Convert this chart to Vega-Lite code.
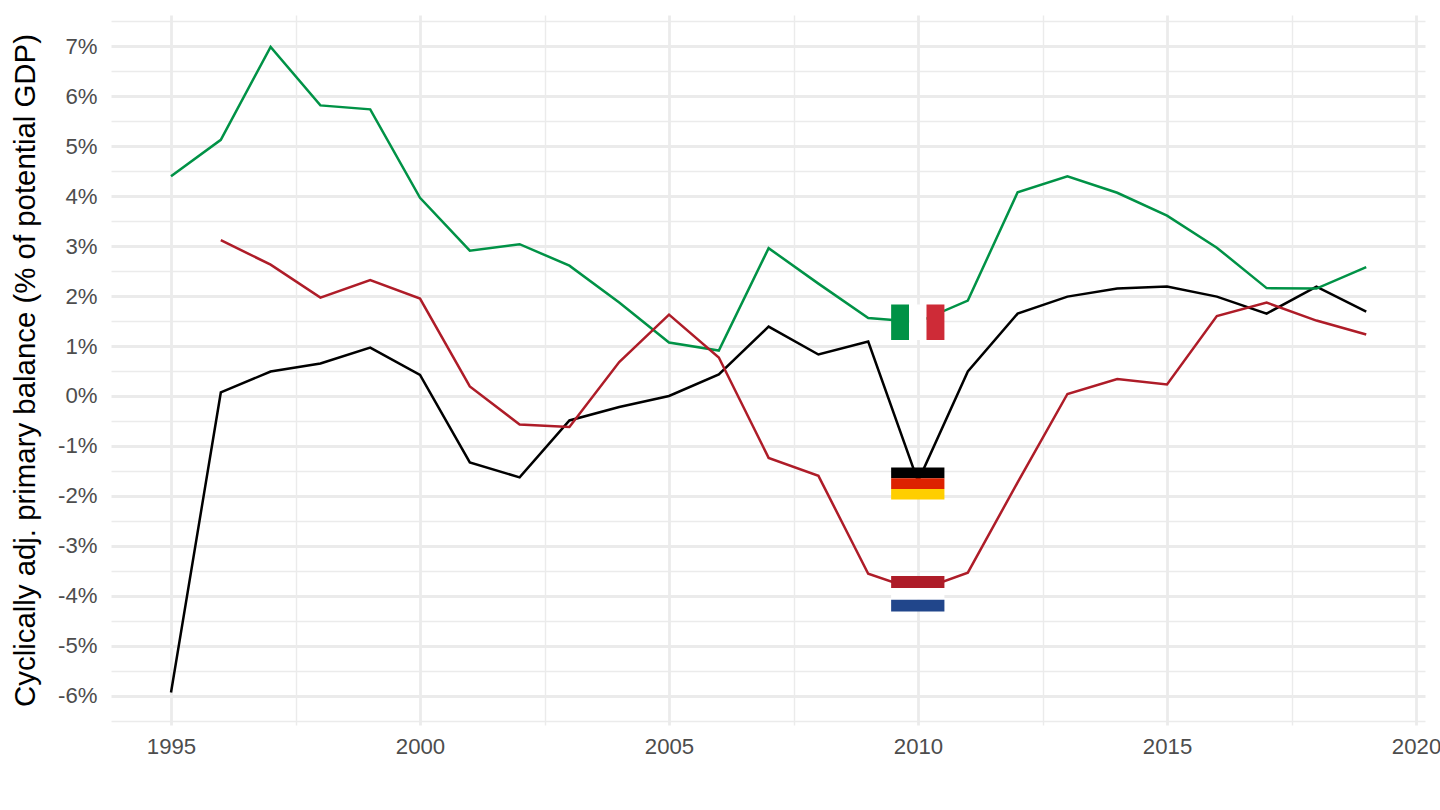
{
  "$schema": "https://vega.github.io/schema/vega-lite/v6.json",
  "width": 1314,
  "height": 710,
  "autosize": "none",
  "padding": {"left": 111, "top": 15, "right": 15, "bottom": 85},
  "background": "white",
  "datasets": {
    "balance": [
      {"year": 1995, "country": "Germany", "value": -5.94},
      {"year": 1996, "country": "Germany", "value": 0.07},
      {"year": 1997, "country": "Germany", "value": 0.49},
      {"year": 1998, "country": "Germany", "value": 0.65},
      {"year": 1999, "country": "Germany", "value": 0.97},
      {"year": 2000, "country": "Germany", "value": 0.42},
      {"year": 2001, "country": "Germany", "value": -1.33},
      {"year": 2002, "country": "Germany", "value": -1.63},
      {"year": 2003, "country": "Germany", "value": -0.49},
      {"year": 2004, "country": "Germany", "value": -0.22},
      {"year": 2005, "country": "Germany", "value": 0.0},
      {"year": 2006, "country": "Germany", "value": 0.43},
      {"year": 2007, "country": "Germany", "value": 1.39},
      {"year": 2008, "country": "Germany", "value": 0.83},
      {"year": 2009, "country": "Germany", "value": 1.09},
      {"year": 2010, "country": "Germany", "value": -1.71},
      {"year": 2011, "country": "Germany", "value": 0.49},
      {"year": 2012, "country": "Germany", "value": 1.65},
      {"year": 2013, "country": "Germany", "value": 1.99},
      {"year": 2014, "country": "Germany", "value": 2.15},
      {"year": 2015, "country": "Germany", "value": 2.19},
      {"year": 2016, "country": "Germany", "value": 1.99},
      {"year": 2017, "country": "Germany", "value": 1.65},
      {"year": 2018, "country": "Germany", "value": 2.19},
      {"year": 2019, "country": "Germany", "value": 1.69},
      {"year": 1995, "country": "Italy", "value": 4.4},
      {"year": 1996, "country": "Italy", "value": 5.13},
      {"year": 1997, "country": "Italy", "value": 6.99},
      {"year": 1998, "country": "Italy", "value": 5.82},
      {"year": 1999, "country": "Italy", "value": 5.74},
      {"year": 2000, "country": "Italy", "value": 3.97},
      {"year": 2001, "country": "Italy", "value": 2.91},
      {"year": 2002, "country": "Italy", "value": 3.04},
      {"year": 2003, "country": "Italy", "value": 2.61},
      {"year": 2004, "country": "Italy", "value": 1.87},
      {"year": 2005, "country": "Italy", "value": 1.07},
      {"year": 2006, "country": "Italy", "value": 0.91},
      {"year": 2007, "country": "Italy", "value": 2.96},
      {"year": 2008, "country": "Italy", "value": 2.25},
      {"year": 2009, "country": "Italy", "value": 1.56},
      {"year": 2010, "country": "Italy", "value": 1.48},
      {"year": 2011, "country": "Italy", "value": 1.91},
      {"year": 2012, "country": "Italy", "value": 4.08},
      {"year": 2013, "country": "Italy", "value": 4.4},
      {"year": 2014, "country": "Italy", "value": 4.07},
      {"year": 2015, "country": "Italy", "value": 3.61},
      {"year": 2016, "country": "Italy", "value": 2.97},
      {"year": 2017, "country": "Italy", "value": 2.16},
      {"year": 2018, "country": "Italy", "value": 2.15},
      {"year": 2019, "country": "Italy", "value": 2.58},
      {"year": 1996, "country": "Netherlands", "value": 3.12},
      {"year": 1997, "country": "Netherlands", "value": 2.63},
      {"year": 1998, "country": "Netherlands", "value": 1.97},
      {"year": 1999, "country": "Netherlands", "value": 2.32},
      {"year": 2000, "country": "Netherlands", "value": 1.95},
      {"year": 2001, "country": "Netherlands", "value": 0.19},
      {"year": 2002, "country": "Netherlands", "value": -0.57},
      {"year": 2003, "country": "Netherlands", "value": -0.62},
      {"year": 2004, "country": "Netherlands", "value": 0.68},
      {"year": 2005, "country": "Netherlands", "value": 1.63},
      {"year": 2006, "country": "Netherlands", "value": 0.77},
      {"year": 2007, "country": "Netherlands", "value": -1.24},
      {"year": 2008, "country": "Netherlands", "value": -1.6},
      {"year": 2009, "country": "Netherlands", "value": -3.56},
      {"year": 2010, "country": "Netherlands", "value": -3.9},
      {"year": 2011, "country": "Netherlands", "value": -3.54},
      {"year": 2012, "country": "Netherlands", "value": -1.73},
      {"year": 2013, "country": "Netherlands", "value": 0.04},
      {"year": 2014, "country": "Netherlands", "value": 0.34},
      {"year": 2015, "country": "Netherlands", "value": 0.23},
      {"year": 2016, "country": "Netherlands", "value": 1.6},
      {"year": 2017, "country": "Netherlands", "value": 1.87},
      {"year": 2018, "country": "Netherlands", "value": 1.51},
      {"year": 2019, "country": "Netherlands", "value": 1.23}
    ],
    "flags": [
      {"band": "IT green", "from": 2009.46, "to": 2009.82, "low": 1.121, "high": 1.832},
      {"band": "IT white", "from": 2009.82, "to": 2010.17, "low": 1.121, "high": 1.832},
      {"band": "IT red", "from": 2010.17, "to": 2010.53, "low": 1.121, "high": 1.832},
      {"band": "DE black", "from": 2009.46, "to": 2010.53, "low": -1.647, "high": -1.433},
      {"band": "DE red", "from": 2009.46, "to": 2010.53, "low": -1.861, "high": -1.647},
      {"band": "DE gold", "from": 2009.46, "to": 2010.53, "low": -2.075, "high": -1.861},
      {"band": "NL red", "from": 2009.46, "to": 2010.53, "low": -3.844, "high": -3.607},
      {"band": "NL white", "from": 2009.46, "to": 2010.53, "low": -4.081, "high": -3.844},
      {"band": "NL blue", "from": 2009.46, "to": 2010.53, "low": -4.318, "high": -4.081}
    ]
  },
  "layer": [
    {
      "data": {"name": "balance"},
      "mark": {"type": "line", "strokeWidth": 2.5},
      "encoding": {
        "x": {
          "field": "year",
          "type": "quantitative",
          "scale": {"domain": [1993.795, 2020.18], "nice": false, "zero": false},
          "axis": {
            "title": null,
            "values": [1995, 1997.5, 2000, 2002.5, 2005, 2007.5, 2010, 2012.5, 2015, 2017.5, 2020],
            "tickCount": 40,
            "labelExpr": "datum.value % 5 == 0 ? format(datum.value, 'd') : ''",
            "gridWidth": {"condition": {"test": "datum.value % 5 == 0", "value": 2.8}, "value": 1.4},
            "labelOverlap": false,
            "labelPadding": 10
          }
        },
        "y": {
          "field": "value",
          "type": "quantitative",
          "scale": {"domain": [-6.59, 7.63], "nice": false, "zero": false},
          "axis": {
            "title": "Cyclically adj. primary balance (% of potential GDP)",
            "values": [-6.5, -6, -5.5, -5, -4.5, -4, -3.5, -3, -2.5, -2, -1.5, -1, -0.5, 0, 0.5, 1, 1.5, 2, 2.5, 3, 3.5, 4, 4.5, 5, 5.5, 6, 6.5, 7, 7.5],
            "tickCount": 40,
            "labelExpr": "datum.value % 1 == 0 ? datum.value + '%' : ''",
            "gridWidth": {"condition": {"test": "datum.value % 1 == 0", "value": 2.8}, "value": 1.4},
            "labelOverlap": false,
            "labelPadding": 14,
            "titlePadding": 17
          }
        },
        "color": {
          "field": "country",
          "type": "nominal",
          "legend": null,
          "scale": {
            "domain": ["Germany", "Italy", "Netherlands"],
            "range": ["#000000", "#009246", "#AE1C28"]
          }
        }
      }
    },
    {
      "data": {"name": "flags"},
      "mark": {"type": "rect"},
      "encoding": {
        "x": {"field": "from", "type": "quantitative"},
        "x2": {"field": "to"},
        "y": {"field": "low", "type": "quantitative"},
        "y2": {"field": "high"},
        "color": {
          "field": "band",
          "type": "nominal",
          "legend": null,
          "scale": {
            "domain": ["IT green", "IT white", "IT red", "DE black", "DE red", "DE gold", "NL red", "NL white", "NL blue"],
            "range": ["#009246", "#FFFFFF", "#CE2B37", "#000000", "#DD2200", "#FFCE00", "#AE1C28", "#FFFFFF", "#21468B"]
          }
        }
      }
    }
  ],
  "resolve": {"scale": {"color": "independent"}},
  "config": {
    "view": {"stroke": null},
    "font": "Liberation Sans",
    "axis": {
      "domain": false,
      "ticks": false,
      "grid": true,
      "gridColor": "#EBEBEB",
      "labelColor": "#4D4D4D",
      "labelFont": "Liberation Sans",
      "labelFontSize": 22.2,
      "titleFont": "Liberation Sans",
      "titleFontSize": 29.4,
      "titleFontWeight": "normal",
      "titleColor": "#000000"
    }
  }
}
